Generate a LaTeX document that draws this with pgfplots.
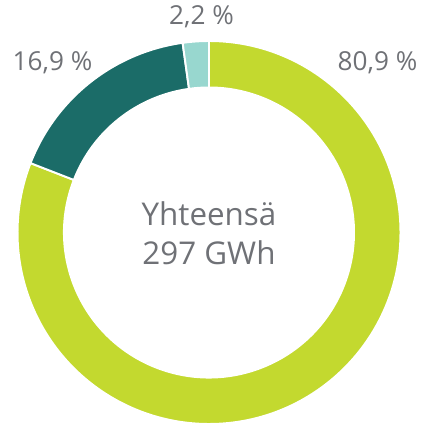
\documentclass[border=0pt]{standalone}
\usepackage{fontspec}
\setmainfont{Open Sans}
\usepackage{pgfplots}
\usepackage{pgfplotstable}
\pgfplotsset{compat=1.18}
\usetikzlibrary{calc}
\definecolor{lime}{HTML}{C3D92F}
\definecolor{teal}{HTML}{1B6C68}
\definecolor{mint}{HTML}{98D7CF}
\definecolor{txt}{HTML}{6F7176}

% osuudet myötäpäivään klo 12:sta
\pgfplotstableread{
share
80.9
16.9
2.2
}\shares

\pgfplotstablegetelem{0}{share}\of\shares \let\sA\pgfplotsretval
\pgfplotstablegetelem{1}{share}\of\shares \let\sB\pgfplotsretval
\pgfplotstablegetelem{2}{share}\of\shares \let\sC\pgfplotsretval
\pgfmathsetmacro\aA{90}
\pgfmathsetmacro\aB{\aA-3.6*\sA}
\pgfmathsetmacro\aC{\aB-3.6*\sB}
\pgfmathsetmacro\aD{\aC-3.6*\sC}
\def\Ro{128.2pt}
\def\Ri{97.1pt}

\begin{document}
\begin{tikzpicture}[font=\fontsize{17.5}{20}\selectfont]
\begin{axis}[
  x=0.6695pt, y=0.6695pt,
  xmin=0, xmax=425, ymin=0, ymax=425,
  hide axis, clip=false,
]
\coordinate (bl) at (axis cs:0,0);
\coordinate (tr) at (axis cs:425,425);
\coordinate (C) at (axis cs:209,192.5);
\fill[lime, draw=white, line width=1.3pt]
  ($(C)+(\aA:\Ro)$) arc[start angle=\aA, end angle=\aB, radius=\Ro]
  -- ($(C)+(\aB:\Ri)$) arc[start angle=\aB, end angle=\aA, radius=\Ri] -- cycle;
\fill[teal, draw=white, line width=1.3pt]
  ($(C)+(\aB:\Ro)$) arc[start angle=\aB, end angle=\aC, radius=\Ro]
  -- ($(C)+(\aC:\Ri)$) arc[start angle=\aC, end angle=\aB, radius=\Ri] -- cycle;
\fill[mint, draw=white, line width=1.3pt]
  ($(C)+(\aC:\Ro)$) arc[start angle=\aC, end angle=\aD, radius=\Ro]
  -- ($(C)+(\aD:\Ri)$) arc[start angle=\aD, end angle=\aC, radius=\Ri] -- cycle;

\node[text=txt] at (axis cs:377.5,362) {80,9 \%};
\node[text=txt] at (axis cs:52.5,362) {16,9 \%};
\node[text=txt] at (axis cs:201.5,408) {2,2 \%};
\node[text=txt, align=center, font=\fontsize{21}{26}\selectfont]
  at (axis cs:209,192) {Yhteensä\\297 GWh};
\end{axis}
\pgfresetboundingbox
\path[use as bounding box] (bl) rectangle (tr);
\end{tikzpicture}
\end{document}
